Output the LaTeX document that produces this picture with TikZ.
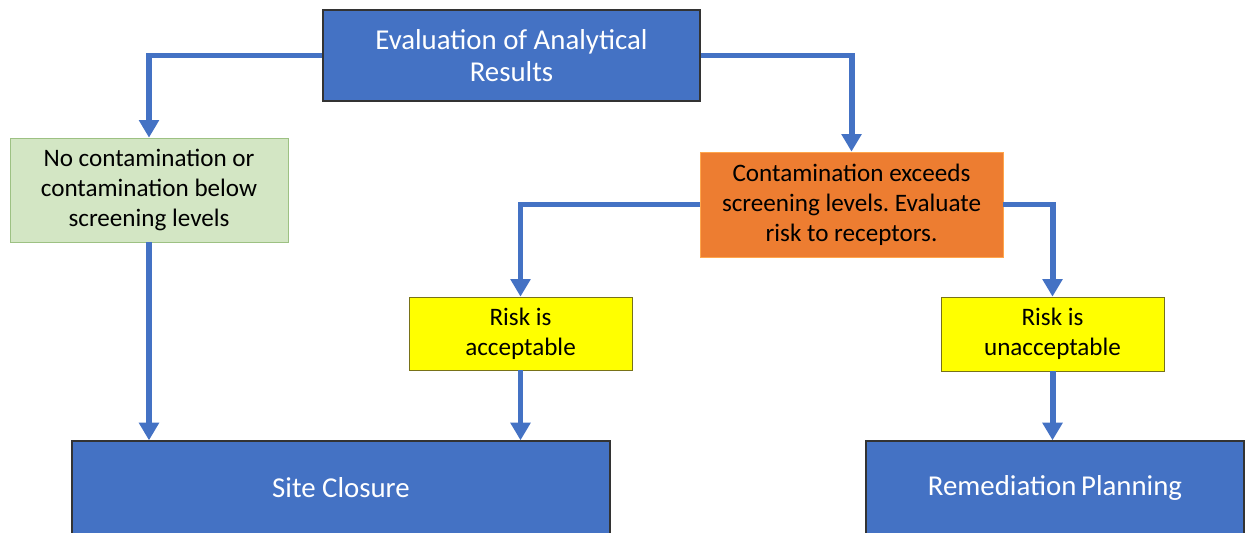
\documentclass[tikz,border=0pt]{standalone}
\usepackage{fontspec}
\setmainfont{Carlito}
\usetikzlibrary{arrows.meta}
\frenchspacing

\definecolor{boxblue}{HTML}{4472C4}
\definecolor{boxgreen}{HTML}{D3E6C4}
\definecolor{edgegreen}{HTML}{9DC183}
\definecolor{boxorange}{HTML}{ED7D31}
\definecolor{boxyellow}{HTML}{FFFF00}
\definecolor{linkblue}{HTML}{4472C4}

\begin{document}
\begin{tikzpicture}[x=0.02cm, y=-0.02cm,
    stepbox/.style={rectangle, align=center, inner sep=2pt, font=\fontsize{14.3}{17}\selectfont},
    bluebox/.style={stepbox, fill=boxblue, draw=black!80, line width=0.8pt, text=white, font=\fontsize{16.4}{18.2}\selectfont},
    link/.style={draw=linkblue, line width=3.4pt, -{Triangle[width=11pt, length=10pt]}}]

  % frame of the page
  \useasboundingbox (0,0) rectangle (1246,533);

  % --- Boxes ---
  \node[bluebox, minimum width=7.54cm, minimum height=1.82cm] (eval) at (511.5,55.5)
    {Evaluation of Analytical\\Results};
  \node[stepbox, fill=boxgreen, draw=edgegreen, minimum width=5.56cm, minimum height=2.08cm] (clean) at (149,190)
    {No contamination or\\contamination below\\screening levels};
  \node[stepbox, fill=boxorange, draw=orange!70!white, minimum width=6.06cm, minimum height=2.10cm] (exceed) at (851.5,204.5)
    {Contamination exceeds\\screening levels. Evaluate\\risk to receptors.};
  \node[stepbox, fill=boxyellow, draw=olive!80!black, minimum width=4.46cm, minimum height=1.46cm] (ok) at (520.5,333.5)
    {Risk is\\acceptable};
  \node[stepbox, fill=boxyellow, draw=olive!80!black, minimum width=4.46cm, minimum height=1.48cm] (notok) at (1052.5,334)
    {Risk is\\unacceptable};
  \node[bluebox, minimum width=10.76cm, minimum height=1.88cm] (closure) at (341,488)
    {Site Closure};
  \node[bluebox, minimum width=7.56cm, minimum height=1.88cm] (remed) at (1055,488)
    {Remediation\,Planning};

  % --- Connectors ---
  \draw[link] (eval.west) -| (clean.north);
  \draw[link] (eval.east) -| (exceed.north);
  \draw[link] (exceed.west) -| (ok.north);
  \draw[link] (exceed.east) -| (notok.north);
  \draw[link] (clean.south) -- (clean.south |- closure.north);
  \draw[link] (ok.south) -- (ok.south |- closure.north);
  \draw[link] (notok.south) -- (notok.south |- remed.north);
\end{tikzpicture}
\end{document}
